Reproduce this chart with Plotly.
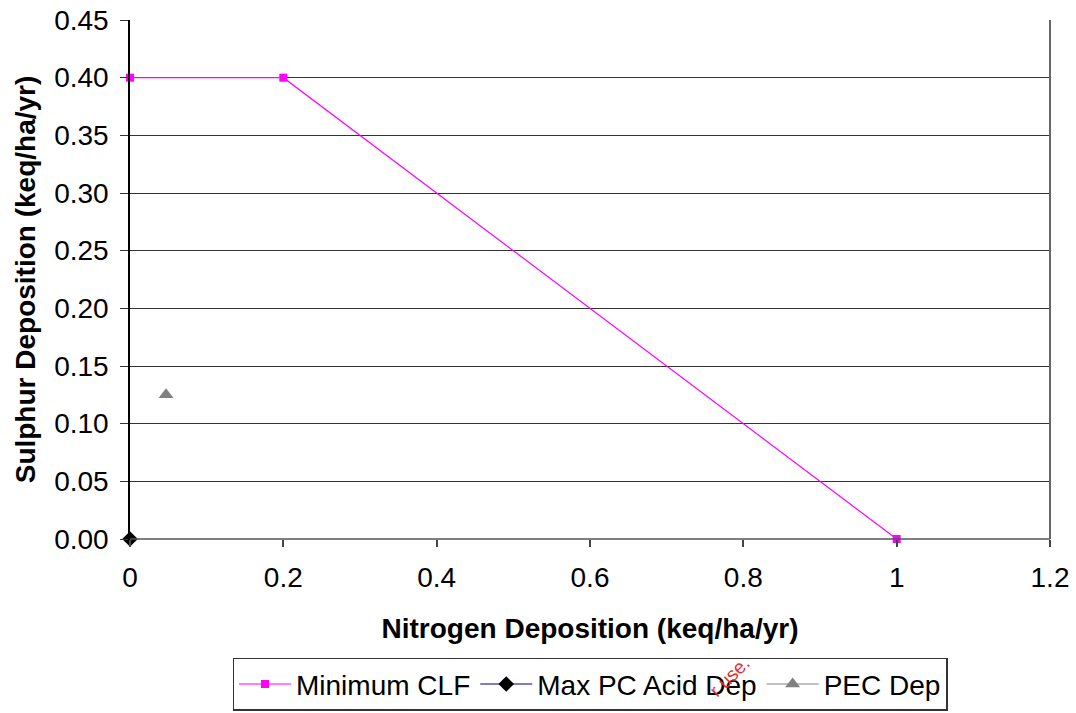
import plotly.graph_objects as go

clf_n = [0, 0.2, 1]
clf_s = [0.4, 0.4, 0]
pc_n = [0]
pc_s = [0]
pec_n = [0.047]
pec_s = [0.125]

fig = go.Figure()
fig.add_trace(go.Scatter(x=clf_n, y=clf_s, mode="lines+markers", name="Minimum CLF",
                         line=dict(color="#FF00FF", width=1.2),
                         marker=dict(symbol="square", size=8, color="#FF00FF"),
                         cliponaxis=False))
fig.add_trace(go.Scatter(x=pc_n, y=pc_s, mode="lines+markers", name="Max PC Acid Dep",
                         line=dict(color="#000080", width=1.2),
                         marker=dict(symbol="diamond", size=12, color="black"),
                         cliponaxis=False))
fig.add_trace(go.Scatter(x=pec_n, y=pec_s, mode="lines+markers", name="PEC Dep",
                         line=dict(color="#808080", width=1.2),
                         marker=dict(symbol="triangle-up", size=13, color="#808080"),
                         cliponaxis=False))

font = "Liberation Sans, Arial, sans-serif"
fig.update_layout(
    width=1076, height=713,
    margin=dict(l=130, r=26, t=20, b=174, autoexpand=False),
    paper_bgcolor="white", plot_bgcolor="white",
    font=dict(family=font, size=28, color="black"),
    showlegend=True,
    legend=dict(orientation="h", x=0.5, xanchor="center", y=-0.331, yanchor="bottom",
                bordercolor="#333333", borderwidth=1.5, bgcolor="white",
                font=dict(size=28), tracegroupgap=0, itemwidth=52),
    xaxis=dict(range=[0, 1.2], tickvals=[0, 0.2, 0.4, 0.6, 0.8, 1, 1.2],
               ticktext=["0", "0.2", "0.4", "0.6", "0.8", "1", "1.2"],
               showgrid=False, zeroline=False, showline=False,
               ticks="outside", ticklen=7, tickcolor="#444444", tickwidth=1.5,
               ticklabelstandoff=6,
               title=dict(text="<b>Nitrogen Deposition (keq/ha/yr)</b>", font=dict(size=28), standoff=26),
               mirror=False),
    yaxis=dict(range=[0, 0.45], dtick=0.05, tickformat=".2f",
               showgrid=True, gridcolor="#333333", gridwidth=1.2,
               zeroline=False, showline=True, linecolor="black", linewidth=1.5,
               ticks="outside", ticklen=8, tickcolor="#333333",
               ticklabelstandoff=6,
               title=dict(text="<b>Sulphur Deposition (keq/ha/yr)</b>", font=dict(size=28), standoff=10)),
)
# right border
fig.add_shape(type="line", xref="paper", yref="paper", x0=1, x1=1, y0=0, y1=1,
              line=dict(color="#666666", width=2))
fig.add_shape(type="line", xref="paper", yref="paper", x0=0, x1=1, y0=0, y1=0,
              line=dict(color="#555555", width=1.5))
fig.add_annotation(text="r use.", xref="paper", yref="paper", x=0.652, y=-0.318,
                   showarrow=False, textangle=-45, font=dict(color="#E03030", size=19, family=font))

fig.write_html("out.html")
